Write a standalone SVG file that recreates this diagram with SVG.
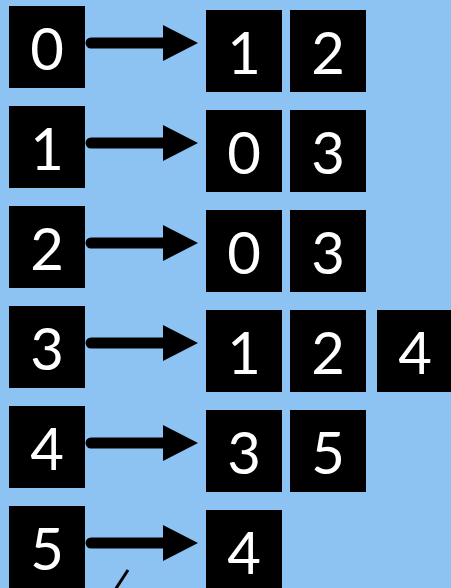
<svg xmlns="http://www.w3.org/2000/svg" width="451" height="588" viewBox="0 0 451 588">
<style>
.sq{fill:#000}
.t{fill:#fff;font-family:Lato,"Open Sans","Liberation Sans",sans-serif;font-size:58px;text-anchor:middle}
.ln{stroke:#000;stroke-width:11;stroke-linecap:round;fill:none}
</style>
<defs>
<marker id="ah" markerUnits="userSpaceOnUse" markerWidth="36" markerHeight="36" refX="0" refY="18" orient="auto" viewBox="0 0 36 36">
<path d="M0,0 L35,18 L0,36 Z" fill="#000"/>
</marker>
</defs>
<rect width="451" height="588" fill="#8DC3F3"/>
<g id="left-0"><rect class="sq" x="9" y="6" width="76" height="82"/><text class="t" x="47" y="70">0</text></g>
<g id="left-1"><rect class="sq" x="9" y="106" width="76" height="82"/><text class="t" x="47" y="170">1</text></g>
<g id="left-2"><rect class="sq" x="9" y="206" width="76" height="82"/><text class="t" x="47" y="270">2</text></g>
<g id="left-3"><rect class="sq" x="9" y="306" width="76" height="82"/><text class="t" x="47" y="370">3</text></g>
<g id="left-4"><rect class="sq" x="9" y="406" width="76" height="82"/><text class="t" x="47" y="470">4</text></g>
<g id="left-5"><rect class="sq" x="9" y="506" width="76" height="82"/><text class="t" x="47" y="570">5</text></g>

<g id="r0a"><rect class="sq" x="206" y="10" width="76" height="82"/><text class="t" x="244" y="74">1</text></g>
<g id="r0b"><rect class="sq" x="290" y="10" width="76" height="82"/><text class="t" x="328" y="74">2</text></g>
<g id="r1a"><rect class="sq" x="206" y="110" width="76" height="82"/><text class="t" x="244" y="174">0</text></g>
<g id="r1b"><rect class="sq" x="290" y="110" width="76" height="82"/><text class="t" x="328" y="174">3</text></g>
<g id="r2a"><rect class="sq" x="206" y="210" width="76" height="82"/><text class="t" x="244" y="274">0</text></g>
<g id="r2b"><rect class="sq" x="290" y="210" width="76" height="82"/><text class="t" x="328" y="274">3</text></g>
<g id="r3a"><rect class="sq" x="206" y="310" width="76" height="82"/><text class="t" x="244" y="374">1</text></g>
<g id="r3b"><rect class="sq" x="290" y="310" width="76" height="82"/><text class="t" x="328" y="374">2</text></g>
<g id="r3c"><rect class="sq" x="377" y="310" width="76" height="82"/><text class="t" x="415" y="374">4</text></g>
<g id="r4a"><rect class="sq" x="206" y="410" width="76" height="82"/><text class="t" x="244" y="474">3</text></g>
<g id="r4b"><rect class="sq" x="290" y="410" width="76" height="82"/><text class="t" x="328" y="474">5</text></g>
<g id="r5a"><rect class="sq" x="206" y="510" width="76" height="82"/><text class="t" x="244" y="574">4</text></g>

<g id="connectors">
<line class="ln" x1="91" y1="43" x2="163" y2="43" marker-end="url(#ah)"/>
<line class="ln" x1="91" y1="143" x2="163" y2="143" marker-end="url(#ah)"/>
<line class="ln" x1="91" y1="243" x2="163" y2="243" marker-end="url(#ah)"/>
<line class="ln" x1="91" y1="343" x2="163" y2="343" marker-end="url(#ah)"/>
<line class="ln" x1="91" y1="443" x2="163" y2="443" marker-end="url(#ah)"/>
<line class="ln" x1="91" y1="543" x2="163" y2="543" marker-end="url(#ah)"/>
<line x1="128" y1="570" x2="115" y2="590" stroke="#000" stroke-width="3"/>
</g>
</svg>
